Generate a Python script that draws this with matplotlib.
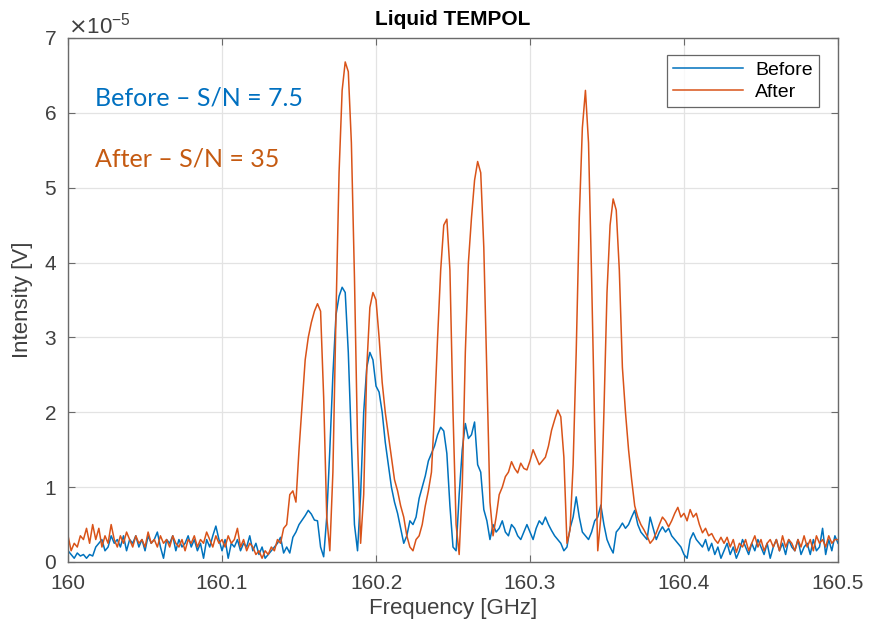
import numpy as np
import matplotlib
matplotlib.use("Agg")
import matplotlib.pyplot as plt
from matplotlib.ticker import ScalarFormatter

# spectra, units of 1e-5 V, step 0.002 GHz from 160.000 to 160.500
before = [
    0.15, 0.1, 0.05, 0.12, 0.08, 0.1, 0.05, 0.1, 0.08, 0.2,
    0.25, 0.3, 0.15, 0.2, 0.35, 0.25, 0.3, 0.2, 0.35, 0.15,
    0.3, 0.25, 0.35, 0.2, 0.3, 0.15, 0.35, 0.25, 0.3, 0.4,
    0.2, 0.05, 0.3, 0.25, 0.35, 0.15, 0.3, 0.2, 0.25, 0.35,
    0.2, 0.3, 0.15, 0.25, 0.05, 0.3, 0.2, 0.35, 0.48, 0.3,
    0.15, 0.3, 0.05, 0.25, 0.2, 0.3, 0.15, 0.25, 0.2, 0.35,
    0.15, 0.25, 0.1, 0.2, 0.05, 0.1, 0.15, 0.2, 0.25, 0.33,
    0.12, 0.2, 0.12, 0.33, 0.4, 0.5, 0.56, 0.62, 0.69, 0.64,
    0.56, 0.55, 0.2, 0.07, 0.6, 1.5, 2.5, 3.3, 3.55, 3.67,
    3.6, 2.8, 1.6, 0.5, 0.15, 0.9, 2.0, 2.6, 2.8, 2.7,
    2.35, 2.27, 2.0, 1.6, 1.3, 1.0, 0.8, 0.65, 0.45, 0.25,
    0.35, 0.55, 0.5, 0.6, 0.85, 1.0, 1.15, 1.35, 1.45, 1.55,
    1.7, 1.8, 1.75, 1.45, 0.75, 0.2, 0.15, 0.9, 1.5, 1.85,
    1.65, 1.7, 1.87, 1.3, 1.2, 0.7, 0.55, 0.3, 0.5, 0.4,
    0.45, 0.55, 0.4, 0.35, 0.5, 0.45, 0.35, 0.3, 0.4, 0.5,
    0.4, 0.3, 0.45, 0.55, 0.5, 0.6, 0.5, 0.42, 0.35, 0.3,
    0.25, 0.15, 0.2, 0.45, 0.6, 0.87, 0.6, 0.4, 0.35, 0.3,
    0.4, 0.55, 0.6, 0.76, 0.5, 0.3, 0.2, 0.12, 0.4, 0.45,
    0.52, 0.45, 0.5, 0.6, 0.69, 0.5, 0.4, 0.35, 0.3, 0.6,
    0.45, 0.3, 0.4, 0.47, 0.4, 0.45, 0.35, 0.3, 0.25, 0.2,
    0.1, 0.05, 0.3, 0.39, 0.3, 0.25, 0.2, 0.3, 0.15, 0.25,
    0.1, 0.2, 0.05, 0.15, 0.25, 0.1, 0.2, 0.05, 0.15, 0.3,
    0.2, 0.1, 0.25, 0.15, 0.3, 0.2, 0.1, 0.25, 0.05, 0.2,
    0.3, 0.15, 0.25, 0.1, 0.3, 0.2, 0.15, 0.3, 0.1, 0.2,
    0.25, 0.1, 0.3, 0.15, 0.2, 0.45, 0.1, 0.3, 0.15, 0.35, 0.25,
]

after = [
    0.35, 0.15, 0.25, 0.2, 0.35, 0.3, 0.45, 0.25, 0.5, 0.3,
    0.45, 0.2, 0.35, 0.25, 0.5, 0.3, 0.2, 0.35, 0.25, 0.4,
    0.3, 0.2, 0.35, 0.25, 0.3, 0.2, 0.4, 0.25, 0.3, 0.2,
    0.35, 0.25, 0.3, 0.2, 0.35, 0.25, 0.2, 0.3, 0.15, 0.3,
    0.25, 0.35, 0.2, 0.3, 0.25, 0.4, 0.3, 0.2, 0.35, 0.25,
    0.3, 0.2, 0.35, 0.25, 0.3, 0.45, 0.2, 0.3, 0.15, 0.25,
    0.2, 0.1, 0.15, 0.05, 0.15, 0.1, 0.2, 0.15, 0.3, 0.25,
    0.45, 0.5, 0.9, 0.95, 0.8, 1.5, 2.1, 2.7, 3.0, 3.2,
    3.35, 3.45, 3.35, 2.2, 0.6, 0.15, 1.2, 3.3, 5.2, 6.3,
    6.68, 6.55, 5.6, 3.8, 1.6, 0.25, 0.9, 2.6, 3.4, 3.6,
    3.5, 3.0, 2.4, 2.0, 1.7, 1.4, 1.1, 0.95, 0.75, 0.6,
    0.35, 0.2, 0.15, 0.3, 0.35, 0.5, 0.75, 0.95, 1.2, 2.0,
    3.0, 3.9, 4.5, 4.58, 3.9, 2.0, 0.5, 0.1, 1.0, 2.8,
    4.0, 4.6, 5.1, 5.35, 5.2, 4.2, 2.5, 0.8, 0.35, 0.6,
    0.9, 1.0, 1.14, 1.2, 1.34, 1.25, 1.19, 1.32, 1.25, 1.23,
    1.35, 1.5, 1.4, 1.3, 1.35, 1.4, 1.55, 1.76, 1.9, 2.03,
    1.94, 1.4, 0.25, 0.43, 1.3, 2.8, 4.6, 5.8, 6.3, 5.6,
    3.8, 1.8, 0.15, 0.6, 2.0, 3.6, 4.5, 4.85, 4.7, 3.9,
    2.6, 2.0, 1.5, 1.1, 0.75, 0.6, 0.5, 0.43, 0.35, 0.25,
    0.3, 0.39, 0.5, 0.6, 0.55, 0.47, 0.55, 0.65, 0.73, 0.6,
    0.65, 0.55, 0.7, 0.6, 0.65, 0.5, 0.39, 0.45, 0.35, 0.38,
    0.3, 0.25, 0.33, 0.25, 0.33, 0.2, 0.3, 0.13, 0.25, 0.2,
    0.3, 0.15, 0.25, 0.35, 0.2, 0.3, 0.15, 0.25, 0.3, 0.2,
    0.3, 0.15, 0.35, 0.2, 0.3, 0.25, 0.15, 0.3, 0.2, 0.35,
    0.2, 0.3, 0.15, 0.35, 0.25, 0.3, 0.2, 0.35, 0.25, 0.3, 0.3,
]

freq = np.linspace(160.0, 160.5, len(after))
xticks = [160, 160.1, 160.2, 160.3, 160.4, 160.5]
xticklabels = ["160", "160.1", "160.2", "160.3", "160.4", "160.5"]

BLUE = "#0072BD"
ORANGE = "#D95319"

plt.rcParams["font.family"] = ["Liberation Sans", "DejaVu Sans"]

fig = plt.figure(figsize=(8.69, 6.28), dpi=100)
ax = fig.add_axes([0.0783, 0.1051, 0.886, 0.8344])

ax.plot(freq, np.array(before) * 1e-5, color=BLUE, lw=1.1, label="Before")
ax.plot(freq, np.array(after) * 1e-5, color=ORANGE, lw=1.1, label="After")

ax.set_xlim(160, 160.5)
ax.set_ylim(0, 7e-5)
ax.set_xticks(xticks)
ax.set_xticklabels(xticklabels)
ax.set_yticks(np.arange(0, 8) * 1e-5)

fmt = ScalarFormatter(useMathText=True)
fmt.set_powerlimits((-3, 3))
ax.yaxis.set_major_formatter(fmt)
ax.yaxis.get_offset_text().set_fontsize(16)
ax.yaxis.get_offset_text().set_color("#404040")

ax.grid(True, color="#E3E3E3", lw=0.9)
ax.set_axisbelow(True)
for s in ax.spines.values():
    s.set_color("#6A6A6A")
    s.set_linewidth(1.0)
ax.tick_params(direction="in", top=True, right=True, labelsize=15,
               colors="#6A6A6A", labelcolor="#404040", length=5)
ax.tick_params(axis="x", pad=9)
ax.tick_params(axis="y", pad=8)

ax.set_xlabel("Frequency [GHz]", fontsize=16, color="#404040", labelpad=3)
ax.set_ylabel("Intensity [V]", fontsize=16, color="#404040", labelpad=8)
ax.set_title("Liquid TEMPOL", fontsize=15, fontweight="bold", pad=9)

leg = ax.legend(loc="upper right", bbox_to_anchor=(0.976, 0.968), fontsize=14,
                handlelength=3.6, frameon=True, fancybox=False, borderaxespad=0,
                borderpad=0.35, labelspacing=0.2, handletextpad=0.6)
leg.get_frame().set_edgecolor("#404040")
leg.get_frame().set_linewidth(0.9)

ax.text(0.035, 0.885, "Before \u2013 S/N = 7.5", transform=ax.transAxes,
        fontsize=18, color="#0070C0", family=["Lato", "DejaVu Sans"], va="center")
ax.text(0.035, 0.77, "After \u2013 S/N = 35", transform=ax.transAxes,
        fontsize=18, color="#C55A11", family=["Lato", "DejaVu Sans"], va="center")

fig.savefig("out.png", dpi=100)
